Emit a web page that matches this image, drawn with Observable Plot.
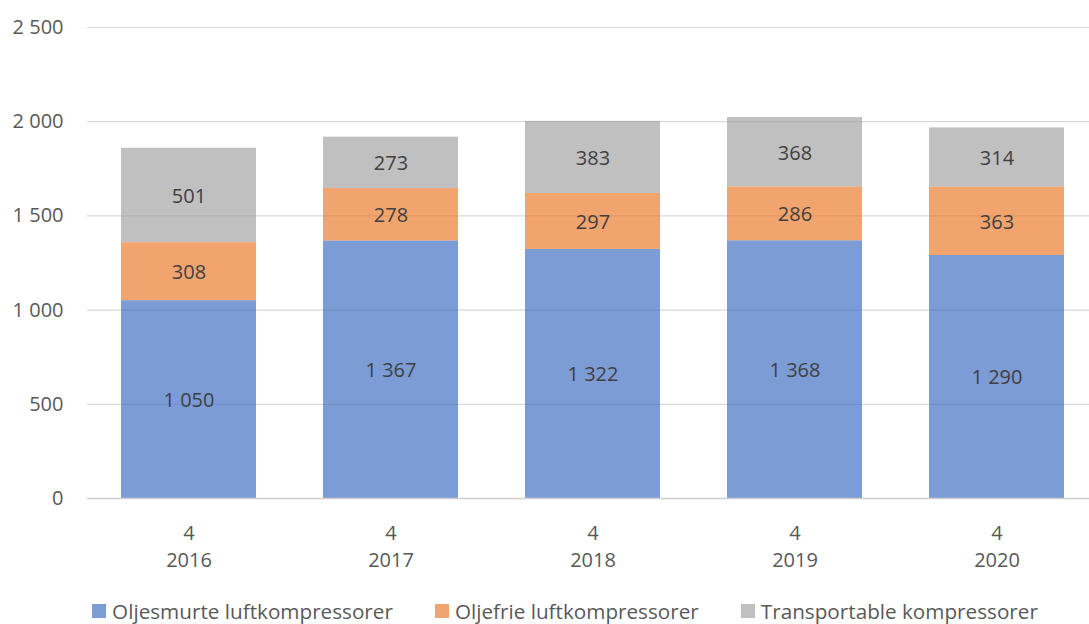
<!DOCTYPE html>
<html>
<head>
<meta charset="utf-8">
<script src="https://cdn.jsdelivr.net/npm/d3@7"></script>
<script src="https://cdn.jsdelivr.net/npm/@observablehq/plot@0.6"></script>
<style>
  html, body { margin: 0; padding: 0; background: #fff; }
  body { width: 1089px; height: 624px; overflow: hidden; font-family: "Open Sans", sans-serif; }
  #legend { display: flex; justify-content: center; align-items: center; gap: 42px; height: 34px; margin-top: 4px; font-size: 20.7px; color: #595959; padding-left: 41px; }
  .item { display: flex; align-items: center; }
  .sw { width: 14px; height: 14px; margin-right: 6px; }
</style>
</head>
<body>
<div id="chart"></div>
<div id="legend"></div>
<script>
const years = ["2016", "2017", "2018", "2019", "2020"];
const quarter = "4";
const seriesNames = ["Oljesmurte luftkompressorer", "Oljefrie luftkompressorer", "Transportable kompressorer"];
const oljesmurte = [1050, 1367, 1322, 1368, 1290];
const oljefrie = [308, 278, 297, 286, 363];
const transportable = [501, 273, 383, 368, 314];
const yTicks = [0, 500, 1000, 1500, 2000, 2500];
const colors = ["#4472C4", "#ED7D31", "#A5A5A5"];

const seriesValues = [oljesmurte, oljefrie, transportable];
const data = [];
years.forEach((yr, i) => {
  seriesNames.forEach((s, j) => data.push({year: yr, series: s, value: seriesValues[j][i]}));
});

const fmt = v => d3.format(",")(v).replace(/,/g, " ");

const chart = Plot.plot({
  width: 1089,
  height: 590,
  marginTop: 27,
  marginLeft: 87,
  marginRight: 0,
  marginBottom: 92,
  style: {fontFamily: "Open Sans, sans-serif", fontSize: "20px", color: "#595959", background: "#fff"},
  x: {type: "band", domain: years, range: [87, 1098], paddingInner: 0.333, paddingOuter: 0.1617},
  y: {domain: [0, 2500]},
  color: {domain: seriesNames, range: colors},
  marks: [
    Plot.ruleY(yTicks.filter(d => d > 0), {stroke: "#d9d9d9", strokeWidth: 1.2}),
    Plot.barY(data, {x: "year", y: "value", fill: "series", fillOpacity: 0.7, order: seriesNames}),
    Plot.ruleY([0], {stroke: "#d0d0d0", strokeWidth: 1.5}),
    Plot.text(data, Plot.stackY({x: "year", y: "value", z: "series", order: seriesNames, text: d => fmt(d.value), fill: "#404040", fontSize: 20, dy: 1})),
    Plot.axisY({ticks: yTicks, tickFormat: fmt, tickSize: 0, tickPadding: 24, fontSize: 20, label: null, color: "#595959"}),
    Plot.axisX({tickFormat: d => quarter + "\n" + d, tickSize: 0, tickPadding: 22, fontSize: 20, lineHeight: 1.35, label: null, color: "#595959"})
  ]
});
document.getElementById("chart").appendChild(chart);

const legend = document.getElementById("legend");
seriesNames.forEach((s, i) => {
  const it = document.createElement("div");
  it.className = "item";
  const sw = document.createElement("div");
  sw.className = "sw";
  sw.style.background = colors[i];
  sw.style.opacity = 0.7;
  const t = document.createElement("span");
  t.textContent = s;
  it.appendChild(sw); it.appendChild(t);
  legend.appendChild(it);
});
</script>
</body>
</html>
